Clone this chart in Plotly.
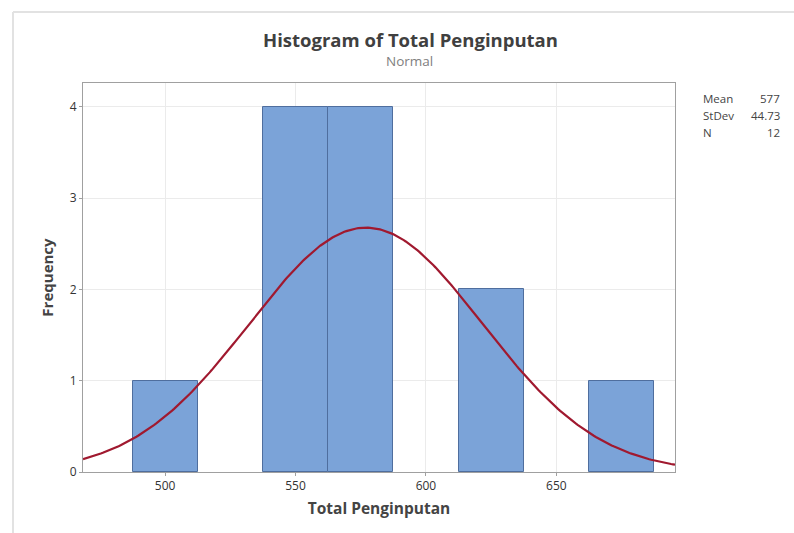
import numpy as np
import plotly.graph_objects as go

# Data
bin_centers = [500, 550, 575, 625, 675]
frequencies = [1, 4, 4, 2, 1]
bin_width = 25
mean_val = 577
stdev_val = 44.73
n_val = 12
x_ticks = [500, 550, 600, 650]
y_ticks = [0, 1, 2, 3, 4]

W, H = 794, 533
L, R, T, B = 83, 119, 83, 61
pw, ph = W - L - R, H - T - B

def px(xp):
    return (xp - L) / pw

def py(yp):
    return (H - B - yp) / ph

fig = go.Figure()
fig.add_trace(go.Bar(
    x=bin_centers, y=frequencies, width=bin_width,
    marker=dict(color="#7BA3D8", line=dict(color="#4F6E9E", width=1)),
    hoverinfo="x+y", showlegend=False,
))

xs = np.linspace(468.5, 695.5, 300)
ys = n_val * bin_width / (stdev_val * np.sqrt(2 * np.pi)) * np.exp(-0.5 * ((xs - mean_val) / stdev_val) ** 2)
fig.add_trace(go.Scatter(x=xs, y=ys, mode="lines", line=dict(color="#A0192F", width=2.2),
                         showlegend=False, hoverinfo="skip"))

font = "Open Sans, Noto Sans, sans-serif"
fig.update_layout(
    width=W, height=H,
    margin=dict(l=L, r=R, t=T, b=B),
    plot_bgcolor="white", paper_bgcolor="white",
    font=dict(family=font, color="#333333"),
    bargap=0,
    xaxis=dict(range=[468.5, 695.5], tickvals=x_ticks, showgrid=True, gridcolor="#EBEBEB",
               zeroline=False, showline=True, linecolor="#A0A0A0", mirror=True,
               ticks="outside", ticklen=3, tickcolor="#A0A0A0",
               tickfont=dict(size=12, color="#333333"),
               title=dict(text="<b>Total Penginputan</b>", font=dict(size=15.5, color="#444444"), standoff=9)),
    yaxis=dict(range=[0, 4.26], tickvals=y_ticks, showgrid=True, gridcolor="#EBEBEB",
               zeroline=False, showline=True, linecolor="#A0A0A0", mirror=True,
               ticks="outside", ticklen=3, tickcolor="#A0A0A0",
               tickfont=dict(size=12, color="#333333"),
               title=dict(text="<b>Frequency</b>", font=dict(size=15, color="#444444"), standoff=12)),
)

annos = [
    dict(text="<b>Histogram of Total Penginputan</b>", x=px(410), y=py(39), size=18.5, color="#404040", anchor="center"),
    dict(text="Normal", x=px(409), y=py(61), size=13.5, color="#808080", anchor="center"),
]
for a in annos:
    fig.add_annotation(text=a["text"], x=a["x"], y=a["y"], xref="paper", yref="paper",
                       showarrow=False, xanchor=a["anchor"], yanchor="middle",
                       font=dict(size=a["size"], color=a["color"], family=font))

stat_labels = ["Mean", "StDev", "N"]
stat_values = [f"{mean_val}", f"{stdev_val}", f"{n_val}"]
for i, (lab, val) in enumerate(zip(stat_labels, stat_values)):
    yy = py(98 + i * 17)
    fig.add_annotation(text=lab, x=px(701), y=yy, xref="paper", yref="paper", showarrow=False,
                       xanchor="left", yanchor="middle", font=dict(size=11.5, color="#444444", family=font))
    fig.add_annotation(text=val, x=px(782), y=yy, xref="paper", yref="paper", showarrow=False,
                       xanchor="right", yanchor="middle", font=dict(size=11.5, color="#444444", family=font))

# outer graph frame (partially visible in reference)
fig.add_shape(type="line", xref="paper", yref="paper", x0=px(13), x1=px(13), y0=py(12), y1=py(533),
              line=dict(color="#E2E2E2", width=2))
fig.add_shape(type="line", xref="paper", yref="paper", x0=px(13), x1=px(794), y0=py(12), y1=py(12),
              line=dict(color="#E2E2E2", width=2))

fig.write_html("out.html")
